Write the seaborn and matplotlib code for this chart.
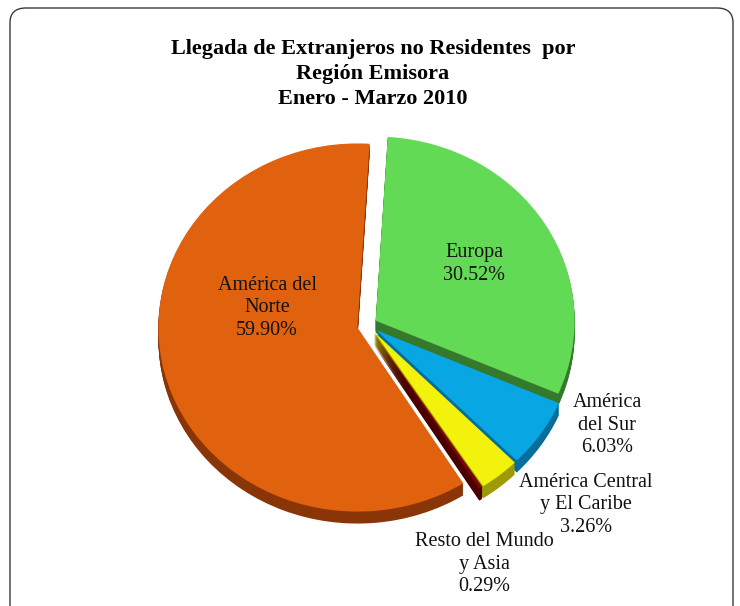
import matplotlib
matplotlib.use("Agg")
import matplotlib.pyplot as plt
from matplotlib.patches import FancyBboxPatch
import seaborn as sns

# datos (orden de dibujo: desde arriba, en sentido horario)
regiones = ["Europa", "América\ndel Sur", "América Central\ny El Caribe",
            "Resto del Mundo\ny Asia", "América del\nNorte"]
porcentajes = [30.52, 6.03, 3.26, 0.29, 59.90]
etiquetas_pct = ["30.52%", "6.03%", "3.26%", "0.29%", "59.90%"]

colores = ["#63DA55", "#08A6E2", "#F2F20C", "#7A0505", "#E0620F"]
colores_lado = ["#357A2C", "#066E9A", "#9C9A06", "#4A0000", "#8A3507"]
separacion = [0.045, 0.05, 0.05, 0.05, 0.055]

sns.set_theme(style="white")
plt.rcParams["font.family"] = ["Liberation Serif", "DejaVu Serif"]
plt.rcParams["text.color"] = "black"

W, H = 740, 606
sy = 0.925  # aplastamiento vertical (efecto 3D)
fig = plt.figure(figsize=(W / 100, H / 100), dpi=100)
fig.patch.set_facecolor("white")
ax = fig.add_axes([0, 0, 1, 1])

cx = 368
cy = (H - 325) / sy
r = 199
grosor = 12 / sy
expl = [s * r for s in separacion]

# cara lateral: varias capas desplazadas hacia abajo
n = 12
for i in range(n, 0, -1):
    ax.pie(porcentajes, colors=colores_lado, startangle=86.5, counterclock=False,
           explode=expl, radius=r, center=(cx, cy - grosor * i / n),
           frame=True, wedgeprops=dict(linewidth=0))
# cara superior
ax.pie(porcentajes, colors=colores, startangle=86.5, counterclock=False,
       explode=expl, radius=r, center=(cx, cy),
       frame=True, wedgeprops=dict(linewidth=0))

ax.set_aspect("auto")
ax.set_xlim(0, W)
ax.set_ylim(0, H / sy)
ax.axis("off")

# marco redondeado
marco = FancyBboxPatch((10, -20), 723, (H - 8) / sy + 20,
                       boxstyle="round,pad=0,rounding_size=16",
                       fill=False, edgecolor="#3a3a3a", linewidth=1.0, clip_on=False)
ax.add_patch(marco)

def fpos(x, y):
    return x / W, 1 - y / H

fig.text(*fpos(373, 74), "Llegada de Extranjeros no Residentes  por\nRegión Emisora\nEnero - Marzo 2010",
         ha="center", va="center", fontsize=16, fontweight="bold", linespacing=1.33)

pos_etiquetas = [(474, 264), (607, 425), (586, 505), (484, 564), (267, 308)]
for reg, pct, (x, y) in zip(regiones, etiquetas_pct, pos_etiquetas):
    fig.text(*fpos(x, y), reg + "\n" + pct, ha="center", va="center",
             fontsize=14.5, linespacing=1.25, color="#111111")

fig.savefig("out.png", dpi=100)
